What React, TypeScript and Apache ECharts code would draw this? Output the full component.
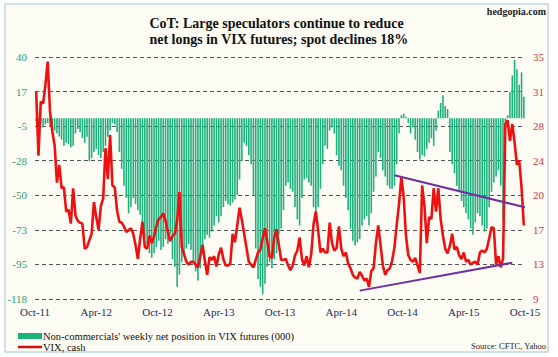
import React, { useEffect, useRef } from "react";
import * as echarts from "echarts";

// ---- data (weekly, Oct-2011 .. Oct-2015) ----
const xLabels = ["Oct-11", "Apr-12", "Oct-12", "Apr-13", "Oct-13", "Apr-14", "Oct-14", "Apr-15", "Oct-15"];
const leftLabels = ["-118", "-95", "-73", "-50", "-28", "-5", "17", "40"];
const rightLabels = ["9", "13", "17", "20", "24", "28", "31", "35"];

// Non-commercials' weekly net position in VIX futures (000)
const netPosition = [
  -2, -4, -3, -6, -4, -3, -5, -7, -8, -10,
  -12, -14, -18, -16, -17, -19, -18, -10, -7, -9,
  -13, -16, -12, -28, -26, -22, -20, -24, -26, -22,
  -18, -12, -8, -3, -4, -9, -22, -33, -44, -52,
  -62, -58, -52, -56, -60, -63, -70, -78, -82, -88,
  -91, -88, -84, -80, -86, -84, -79, -82, -76, -92,
  -97, -110, -102, -94, -90, -85, -82, -86, -95, -100,
  -106, -98, -86, -79, -76, -78, -74, -70, -64, -68,
  -64, -58, -54, -56, -57, -55, -53, -50, -40, -28,
  -16, -18, -24, -30, -50, -85, -105, -110, -115, -108,
  -97, -94, -98, -92, -88, -76, -72, -60, -44, -42,
  -46, -48, -58, -66, -70, -52, -40, -39, -42, -44,
  -58, -64, -58, -46, -30, -18, -20, -8, -6, -10,
  -24, -31, -34, -44, -52, -60, -72, -80, -83, -81,
  -79, -70, -66, -64, -70, -62, -48, -38, -22, -26,
  -34, -38, -44, -46, -46, -44, -30, -10, 2, 3,
  1, -3, -10, -6, -14, -22, -27, -24, -25, -20,
  -16, -13, -18, -8, 5, 10, 15, 8, 6, -22,
  -30, -36, -44, -48, -54, -58, -62, -66, -72, -76,
  -68, -62, -64, -70, -74, -72, -58, -48, -42, -38,
  -34, -44, -66, -4, 2, 17, 28, 38, 32, 22,
  30, 14,
];

// VIX, cash
const vix = [
  31.3, 24.4, 30.2, 30.0, 32.0, 34.5, 29.1, 27.0, 25.5, 21.5,
  23.4, 20.9, 21.0, 18.4, 18.6, 17.1, 20.9, 18.0, 17.4, 17.2,
  17.1, 14.4, 14.6, 15.3, 16.0, 19.4, 17.8, 16.4, 19.0, 19.8,
  25.2, 21.9, 26.6, 21.2, 21.0, 18.5, 17.3, 17.2, 16.8, 16.2,
  16.4, 16.6, 16.0, 14.8, 13.3, 15.5, 17.3, 14.6, 14.4, 15.8,
  15.0, 15.7, 16.8, 17.6, 17.8, 18.2, 17.4, 16.2, 15.2, 15.8,
  16.0, 17.4, 20.5, 14.6, 13.8, 13.0, 12.7, 13.0, 13.0, 12.7,
  12.4, 13.6, 14.8, 13.1, 11.6, 13.5, 13.2, 13.6, 12.5, 13.8,
  14.5, 13.3, 12.6, 12.6, 12.8, 16.0, 15.1, 16.9, 18.8, 17.5,
  16.0, 14.5, 13.0, 12.7, 12.4, 13.2, 14.0, 14.3, 15.5, 16.6,
  15.2, 13.6, 13.4, 15.6, 16.5, 14.8, 13.2, 13.2, 13.3, 12.6,
  12.1, 12.6, 13.7, 14.2, 15.6, 13.3, 12.6, 13.6, 12.4, 13.8,
  17.0, 18.4, 16.4, 14.0, 14.4, 14.0, 14.0, 17.2, 15.0, 14.2,
  14.5, 16.8, 14.4, 13.6, 14.0, 12.8, 12.3, 11.6, 11.3, 11.2,
  11.9, 11.5, 11.0, 11.2, 10.3, 12.0, 12.3, 15.0, 16.9, 14.8,
  12.6, 11.6, 12.1, 12.3, 13.1, 14.5, 17.0, 19.2, 22.1, 20.0,
  15.8, 13.7, 13.2, 13.0, 13.4, 12.6, 11.8, 21.2, 19.0, 15.0,
  17.8, 17.6, 20.9, 18.4, 20.9, 17.6, 15.8, 14.4, 13.9, 14.7,
  16.0, 14.3, 14.6, 13.7, 13.3, 14.0, 13.0, 13.2, 12.7, 12.9,
  13.0, 12.7, 14.0, 14.2, 14.0, 14.4, 15.5, 16.7, 16.6, 12.7,
  13.6, 12.4, 13.3, 27.8, 28.2, 26.0, 27.8, 25.8, 23.4, 23.9,
  21.0, 16.9,
];

// trend lines drawn on the VIX (week index, VIX value)
const upperTrend = [[155, 22.3], [211.5, 18.85]];
const lowerTrend = [[140, 9.9], [206, 12.9]];

const SERIF = '"Liberation Serif", "Times New Roman", serif';

export default function App() {
  const ref = useRef<HTMLDivElement>(null);

  useEffect(() => {
    if (!ref.current) return;
    const chart = echarts.init(ref.current, undefined, { renderer: "svg" });

    const n = netPosition.length;
    const xMin = -0.5;
    const xMax = n - 0.5;
    const xInterval = (xMax - xMin) / (xLabels.length - 1);
    const lMin = -118, lMax = 40, lInt = (lMax - lMin) / 7;
    const rMin = 9, rMax = 35, rInt = (rMax - rMin) / 7;

    const pick = (labels: string[], min: number, int: number) => (v: number) => {
      const k = (v - min) / int;
      const r = Math.round(k);
      if (Math.abs(k - r) > 1e-4 || r < 0 || r >= labels.length) return "";
      return labels[r];
    };

    chart.setOption({
      animation: false,
      backgroundColor: "#ffffff",
      title: {
        text: "CoT: Large speculators continue to reduce\nnet longs in VIX futures; spot declines 18%",
        left: "center",
        top: 15,
        padding: 0,
        textStyle: {
          fontFamily: SERIF,
          fontWeight: "bold",
          fontSize: 14,
          lineHeight: 16,
          color: "#111111",
        },
        textAlign: "left",
      },
      grid: { left: 35, right: 33, top: 57, bottom: 58, containLabel: false, outerBoundsMode: "none" },
      xAxis: {
        type: "value",
        min: xMin,
        max: xMax,
        interval: xInterval,
        axisLine: { show: false },
        axisTick: { show: false },
        splitLine: { show: false },
        axisLabel: {
          showMinLabel: true,
          showMaxLabel: true,
          margin: 7,
          fontFamily: SERIF,
          fontSize: 11,
          color: "#1c2b5c",
          formatter: pick(xLabels, xMin, xInterval),
        },
      },
      yAxis: [
        {
          type: "value",
          min: lMin,
          max: lMax,
          interval: lInt,
          axisLine: { show: false },
          axisTick: { show: false },
          splitLine: { show: true, lineStyle: { color: "#555555", width: 1, type: [4, 3] } },
          axisLabel: {
            margin: 8,
            fontFamily: SERIF,
            fontSize: 11,
            color: "#2f9e6f",
            showMinLabel: true,
            showMaxLabel: true,
            formatter: pick(leftLabels, lMin, lInt),
          },
        },
        {
          type: "value",
          min: rMin,
          max: rMax,
          interval: rInt,
          position: "right",
          axisLine: { show: false },
          axisTick: { show: false },
          splitLine: { show: false },
          axisLabel: {
            margin: 8,
            fontFamily: SERIF,
            fontSize: 11,
            color: "#d8343c",
            showMinLabel: true,
            showMaxLabel: true,
            formatter: pick(rightLabels, rMin, rInt),
          },
        },
      ],
      series: [
        {
          name: "Non-commercials' weekly net position in VIX futures (000)",
          type: "bar",
          yAxisIndex: 0,
          barWidth: 1.6,
          itemStyle: { color: "#1fb07e" },
          data: netPosition.map((v, i) => [i, v]),
        },
        {
          name: "VIX, cash",
          type: "line",
          yAxisIndex: 1,
          symbol: "none",
          lineStyle: { color: "#ee1111", width: 2.6 },
          data: vix.map((v, i) => [i, v]),
        },
        {
          name: "upper trend",
          type: "line",
          yAxisIndex: 1,
          symbol: "none",
          lineStyle: { color: "#7030a0", width: 2 },
          data: upperTrend,
        },
        {
          name: "lower trend",
          type: "line",
          yAxisIndex: 1,
          symbol: "none",
          lineStyle: { color: "#7030a0", width: 2 },
          data: lowerTrend,
        },
      ],
      graphic: [
        {
          type: "rect",
          z: -10,
          silent: true,
          shape: { x: 5, y: 4, width: 543, height: 348 },
          style: { fill: "#fcfcf5", stroke: "#c2d3e8", lineWidth: 1.5 },
        },
        {
          type: "text",
          x: 546,
          y: 11,
          style: {
            text: "hedgopia.com",
            font: `bold 10px ${SERIF}`,
            fill: "#222222",
            align: "right",
            verticalAlign: "middle",
          },
        },
        {
          type: "rect",
          shape: { x: 18, y: 333, width: 24, height: 6 },
          style: { fill: "#1db27a" },
        },
        {
          type: "text",
          x: 43,
          y: 336,
          style: {
            text: "Non-commercials' weekly net position in VIX futures (000)",
            font: `10.5px ${SERIF}`,
            fill: "#111111",
            align: "left",
            verticalAlign: "middle",
          },
        },
        {
          type: "line",
          shape: { x1: 18, y1: 347, x2: 42, y2: 347 },
          style: { stroke: "#cc1111", lineWidth: 2.5 },
        },
        {
          type: "text",
          x: 43,
          y: 347,
          style: {
            text: "VIX, cash",
            font: `10.5px ${SERIF}`,
            fill: "#111111",
            align: "left",
            verticalAlign: "middle",
          },
        },
        {
          type: "text",
          x: 546,
          y: 346,
          style: {
            text: "Source: CFTC, Yahoo",
            font: `8.5px ${SERIF}`,
            fill: "#222222",
            align: "right",
            verticalAlign: "middle",
          },
        },
      ],
    });

    return () => chart.dispose();
  }, []);

  return (
    <div
      ref={ref}
      style={{ position: "fixed", left: 0, top: 0, width: 558, height: 357 }}
    />
  );
}
